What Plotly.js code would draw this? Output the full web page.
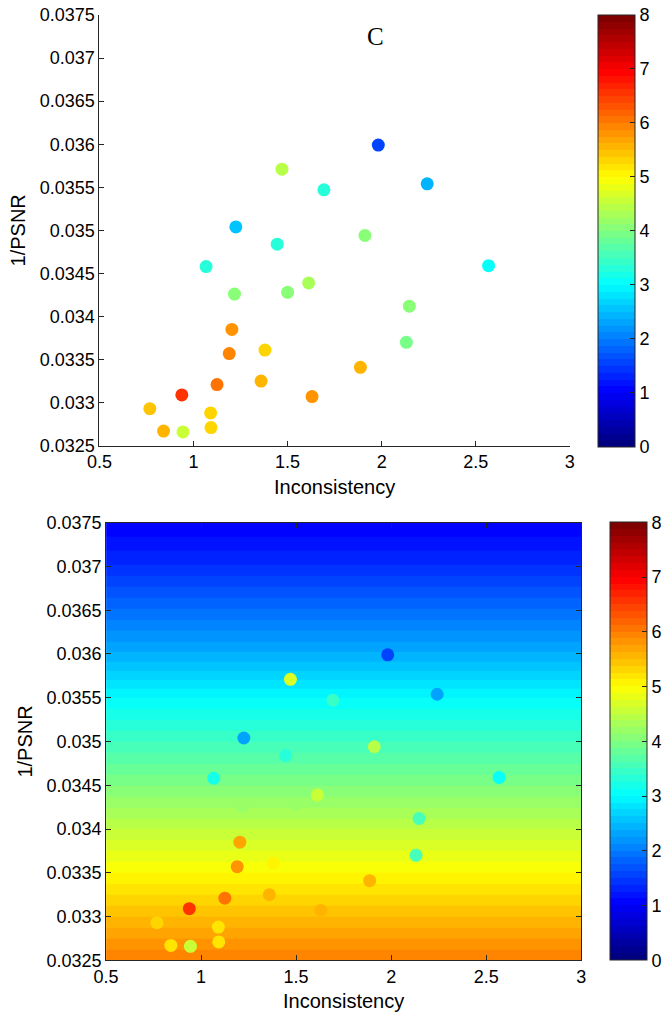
<!DOCTYPE html>
<html>
<head>
<meta charset="utf-8">
<script src="https://cdn.plot.ly/plotly-3.0.1.min.js"></script>
<style>html,body{margin:0;padding:0;background:#fff;}#chart{width:668px;height:1015px;}</style>
</head>
<body>
<div id="chart"></div>
<script>
// ---- data ----
const inconsistency = [1.982, 2.242, 1.225, 1.470, 1.693, 1.445, 1.911, 1.067, 2.568, 1.218, 1.500, 1.612, 2.147, 2.131,
  1.204, 1.190, 1.380, 1.125, 1.359, 0.938, 1.630, 1.887, 0.768, 1.091, 0.841, 0.944, 1.093];
const invPSNR = [0.03599, 0.03554, 0.03504, 0.03571, 0.03547, 0.03484, 0.03494, 0.03458, 0.03459, 0.03426, 0.03428, 0.03439, 0.03412, 0.03370,
  0.03385, 0.03357, 0.03361, 0.03321, 0.03325, 0.03309, 0.03307, 0.03341, 0.03293, 0.03288, 0.03267, 0.03266, 0.03271];
const scoreTop = [1.5, 2.4, 2.5, 4.4, 3.3, 3.3, 4.0, 3.3, 3.0, 4.1, 4.1, 4.3, 4.0, 3.9,
  5.8, 5.9, 5.25, 6.1, 5.6, 6.5, 5.8, 5.5, 5.4, 5.35, 5.5, 4.6, 5.3];
const scoreBottom = [1.5, 2.35, 2.25, 4.7, 3.4, 3.3, 4.4, 3.2, 3.0, 4.2, 4.2, 4.6, 3.6, 3.6,
  5.7, 5.85, 5.0, 6.0, 5.5, 6.5, 5.6, 5.5, 5.3, 5.2, 5.2, 4.6, 5.2];
// background surface levels (read at each y tick)
const bgY = [0.0325, 0.0330, 0.0335, 0.0340, 0.0345, 0.0350, 0.0355, 0.0360, 0.0365, 0.0370, 0.0375];
const bgLevel = [6.0, 5.5, 5.0, 4.5, 4.0, 3.5, 3.0, 2.4, 1.9, 1.4, 1.0];
const bgX = [0.5, 3];
const xTickVals = [0.5, 1, 1.5, 2, 2.5, 3];
const xTickText = ['0.5', '1', '1.5', '2', '2.5', '3'];
const yTickVals = [0.0325, 0.033, 0.0335, 0.034, 0.0345, 0.035, 0.0355, 0.036, 0.0365, 0.037, 0.0375];
const yTickText = ['0.0325', '0.033', '0.0335', '0.034', '0.0345', '0.035', '0.0355', '0.036', '0.0365', '0.037', '0.0375'];
const cbTicks = [0, 1, 2, 3, 4, 5, 6, 7, 8];

// ---- MATLAB-like jet(64) discrete colorscale ----
function clamp(v){return Math.max(0, Math.min(1, v));}
function jet(t){
  const r = clamp(1.5 - Math.abs(4*t - 3)), g = clamp(1.5 - Math.abs(4*t - 2)), b = clamp(1.5 - Math.abs(4*t - 1));
  return 'rgb(' + Math.round(r*255) + ',' + Math.round(g*255) + ',' + Math.round(b*255) + ')';
}
const N = 64, jetScale = [];
for (let i = 0; i < N; i++) {
  const c = jet(i/(N-1));
  jetScale.push([i/N, c]);
  jetScale.push([(i+1)/N, c]);
}

const font = 'Liberation Sans, Arial, sans-serif';
const ink = '#262626';
const bgZ = bgY.map((y, i) => bgX.map(() => bgLevel[i]));

function cbar(x, ybot, len){
  return {x: x, xanchor: 'left', xpad: 0, y: ybot, yanchor: 'bottom', ypad: 0, len: len, lenmode: 'fraction',
    thickness: 37, thicknessmode: 'pixels', outlinewidth: 1, outlinecolor: ink,
    tickmode: 'array', tickvals: cbTicks, ticktext: cbTicks.map(String), ticks: 'inside', ticklen: 5, tickcolor: ink,
    tickfont: {family: font, size: 18, color: '#000'}};
}

const traces = [
  {type: 'scatter', mode: 'markers', x: inconsistency, y: invPSNR, xaxis: 'x', yaxis: 'y',
   marker: {size: 13, color: scoreTop, colorscale: jetScale, cmin: 0, cmax: 8, showscale: true,
            colorbar: cbar(601.7/668, (1015-446.7)/1015, 431.7/1015)}, hoverinfo: 'skip'},
  {type: 'heatmap', x: bgX, y: bgY, z: bgZ, xaxis: 'x2', yaxis: 'y2', zsmooth: 'best',
   colorscale: jetScale, zmin: 0, zmax: 8, showscale: true,
   colorbar: cbar(614/668, (1015-960.3)/1015, 437.6/1015), hoverinfo: 'skip'},
  {type: 'scatter', mode: 'markers', x: inconsistency, y: invPSNR, xaxis: 'x2', yaxis: 'y2',
   marker: {size: 13, color: scoreBottom, colorscale: jetScale, cmin: 0, cmax: 8, showscale: false}, hoverinfo: 'skip'}
];

function xa(domain, anchor, mirror){
  return {domain: domain, anchor: anchor, range: [0.5, 3], tickmode: 'array', tickvals: xTickVals, ticktext: xTickText,
    ticks: 'inside', ticklen: 5, tickcolor: ink, showline: true, linecolor: ink, linewidth: 1, mirror: mirror,
    showgrid: false, zeroline: false, tickfont: {family: font, size: 18, color: '#000'},
    title: {text: 'Inconsistency', font: {family: font, size: 20, color: '#000'}, standoff: 8}};
}
function ya(domain, anchor, mirror){
  return {domain: domain, anchor: anchor, range: [0.0325, 0.0375], tickmode: 'array', tickvals: yTickVals, ticktext: yTickText,
    ticks: 'inside', ticklen: 5, tickcolor: ink, showline: true, linecolor: ink, linewidth: 1, mirror: mirror,
    showgrid: false, zeroline: false, tickfont: {family: font, size: 18, color: '#000'},
    title: {text: '1/PSNR', font: {family: font, size: 20, color: '#000'}, standoff: 8}};
}

const layout = {
  width: 668, height: 1015, margin: {l: 0, r: 0, t: 0, b: 0},
  paper_bgcolor: '#fff', plot_bgcolor: '#fff', showlegend: false,
  xaxis: xa([100/668, 573.3/668], 'y', false),
  yaxis: ya([(1015-445.7)/1015, (1015-15)/1015], 'x', false),
  xaxis2: xa([106.7/668, 584.7/668], 'y2', 'ticks'),
  yaxis2: ya([(1015-960.3)/1015, (1015-522.7)/1015], 'x2', 'ticks'),
  annotations: [{text: 'C', xref: 'paper', yref: 'paper', x: 378/668, y: (1015-37)/1015,
    xanchor: 'center', yanchor: 'middle', showarrow: false,
    font: {family: 'Liberation Serif, Times New Roman, serif', size: 25, color: '#000'}}]
};

Plotly.newPlot('chart', traces, layout, {staticPlot: true, displayModeBar: false});
</script>
</body>
</html>
